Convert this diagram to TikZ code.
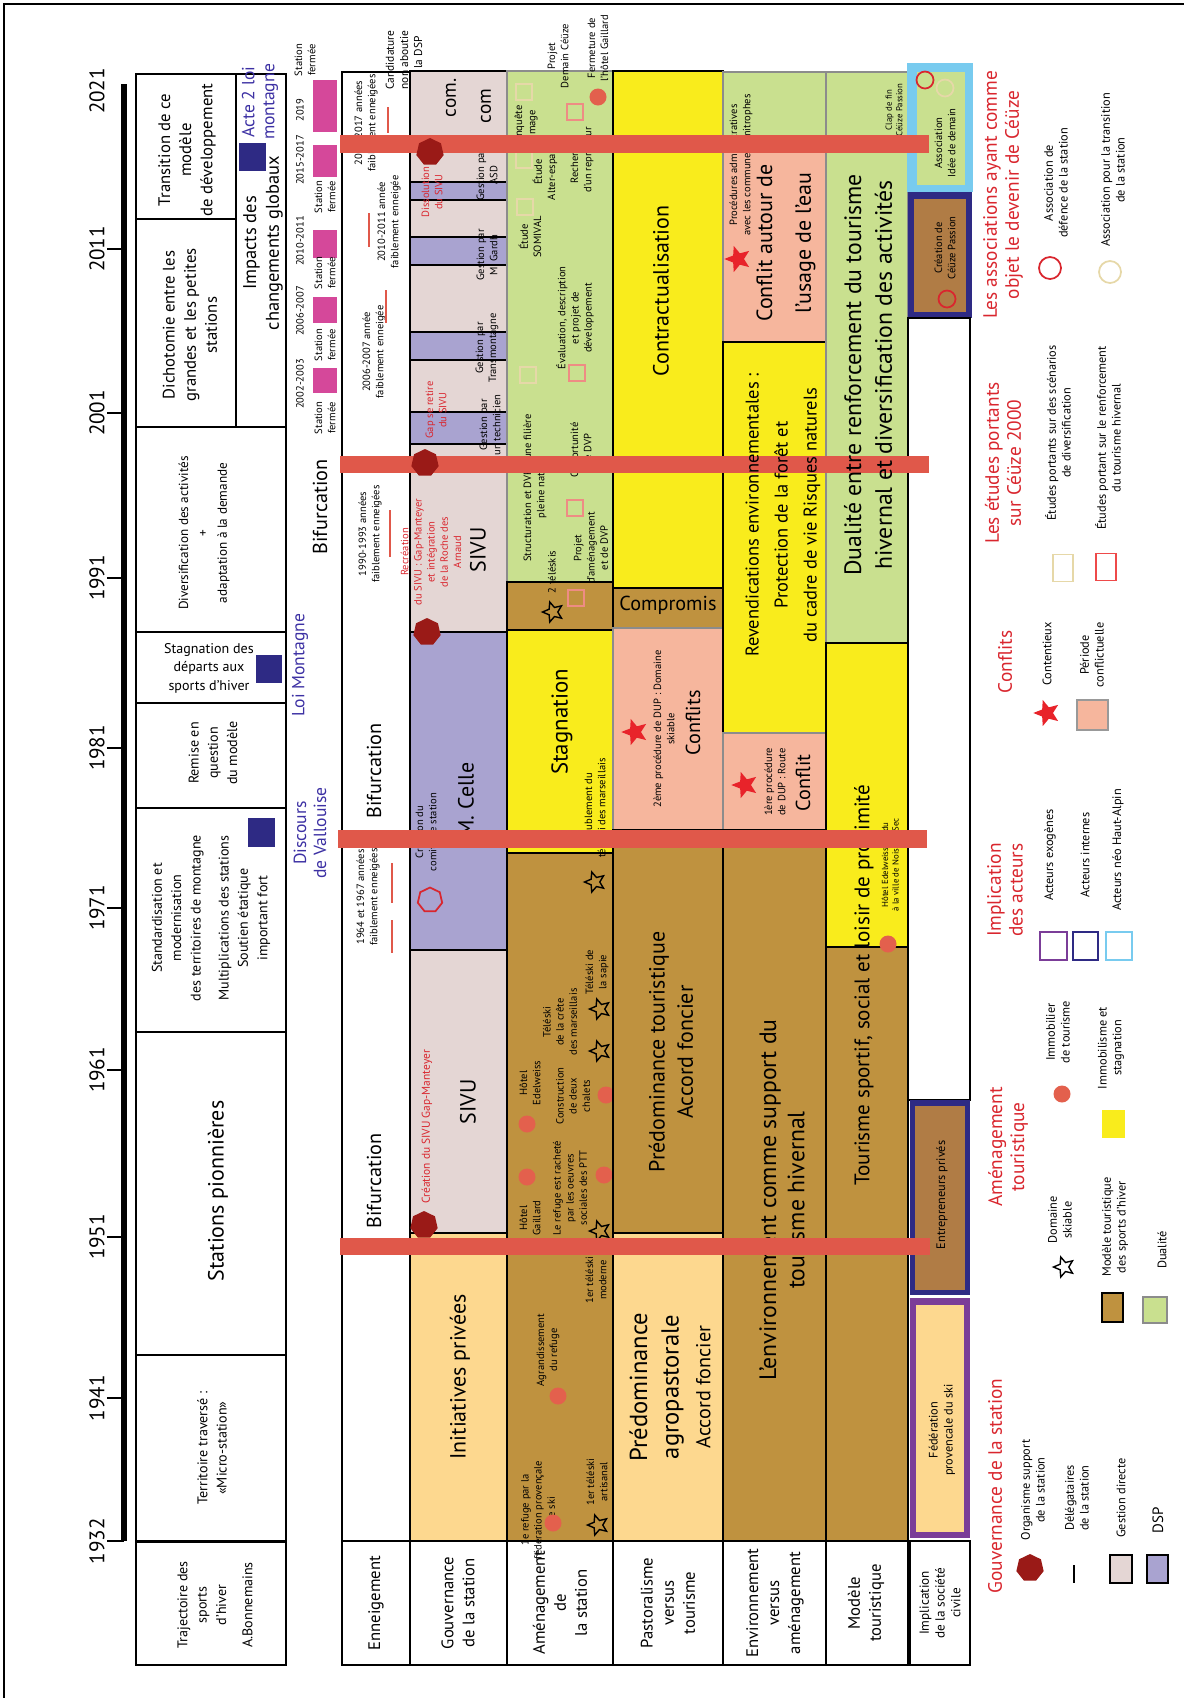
\documentclass[tikz,border=0pt]{standalone}
\usepackage{fontspec}
\setmainfont{PT Sans}
\usetikzlibrary{shapes.geometric}
\usetikzlibrary{positioning}

\definecolor{barred}{HTML}{E0584A}
\definecolor{darkred}{HTML}{9A1A17}
\definecolor{palepink}{HTML}{E4D6D4}
\definecolor{dsplav}{HTML}{A9A3D0}
\definecolor{lightorange}{HTML}{FDD88F}
\definecolor{brownmod}{HTML}{BF923F}
\definecolor{yellowst}{HTML}{F9EC1C}
\definecolor{greendual}{HTML}{C9E08F}
\definecolor{salmon}{HTML}{F6B69D}
\definecolor{titlered}{HTML}{D9262E}
\definecolor{loiblue}{HTML}{3C30A3}
\definecolor{navy}{HTML}{2E2A84}
\definecolor{pinksq}{HTML}{D5489A}
\definecolor{purplebd}{HTML}{7B3D98}
\definecolor{skyblue}{HTML}{78CBEF}
\definecolor{beige}{HTML}{E6D8A8}
\definecolor{brownimp}{HTML}{B07C45}
\definecolor{starred}{HTML}{E8232A}
\definecolor{dotred}{HTML}{E3604D}
\definecolor{studyred}{HTML}{EE4A4A}
\definecolor{studylight}{HTML}{EE8C84}

\begin{document}
\begin{tikzpicture}[x=0.02cm,y=-0.02cm,
  rt/.style={rotate=90,align=center,inner sep=0pt},
  bigtxt/.style={rt,font=\fontsize{12.5}{16}\selectfont},
  midtxt/.style={rt,font=\fontsize{9.5}{12}\selectfont},
  boxtxt/.style={rt,font=\fontsize{8}{11}\selectfont},
  labtxt/.style={rt,font=\fontsize{9.5}{12}\selectfont},
  legtxt/.style={rt,font=\fontsize{7}{8.4}\selectfont},
  smalltxt/.style={rt,font=\fontsize{6}{7.5}\selectfont},
  tinytxt/.style={rt,font=\fontsize{5}{6}\selectfont},
  yeartxt/.style={rt,font=\fontsize{12}{14}\selectfont},
  titletxt/.style={rt,font=\fontsize{11}{12.5}\selectfont,text=titlered},
  bluetxt/.style={rt,font=\fontsize{10}{11.5}\selectfont,text=loiblue},
  band/.style={draw=black,line width=1.1pt},
  softband/.style={draw=black!45,line width=0.8pt},
  tick/.style={line width=1.2pt},
  skistar/.style={star,star points=5,star point ratio=2.2,shape border rotate=90,draw,line width=0.8pt,minimum size=0.42cm,inner sep=0pt},
  constar/.style={star,star points=5,star point ratio=2.3,shape border rotate=90,fill=starred,minimum size=0.55cm,inner sep=0pt},
  immo/.style={circle,fill=dotred,minimum size=0.34cm,inner sep=0pt},
  orgsup/.style={regular polygon,regular polygon sides=7,fill=darkred,minimum size=0.56cm,inner sep=0pt},
  studysq/.style={rectangle,draw,line width=0.9pt,minimum size=0.32cm,inner sep=0pt},
  assoc/.style={circle,draw,line width=1pt,minimum size=0.34cm,inner sep=0pt}]

\useasboundingbox (0,0) rectangle (1184,1698);
\draw[line width=0.6pt] (4,1698) -- (4,4) -- (1184,4);

% time axis
\draw[line width=3pt] (124,84) -- (124,1541);
\draw[tick] (107,249) -- (124,249);
\draw[tick] (107,413) -- (124,413);
\draw[tick] (107,578) -- (124,578);
\draw[tick] (107,748) -- (124,748);
\draw[tick] (107,908) -- (124,908);
\draw[tick] (107,1070) -- (124,1070);
\draw[tick] (107,1237) -- (124,1237);
\draw[tick] (107,1398) -- (124,1398);
\draw[tick] (107,1541) -- (124,1541);
\node[yeartxt] (y2021) at (97,91) {2021};
\node[yeartxt] (y2011) at (97,249) {2011};
\node[yeartxt] (y2001) at (97,413) {2001};
\node[yeartxt] (y1991) at (97,578) {1991};
\node[yeartxt] (y1981) at (97,748) {1981};
\node[yeartxt] (y1971) at (97,908) {1971};
\node[yeartxt] (y1961) at (97,1070) {1961};
\node[yeartxt] (y1951) at (97,1237) {1951};
\node[yeartxt] (y1941) at (97,1398) {1941};
\node[yeartxt] (y1932) at (97,1541) {1932};

% trajectoire des sports d'hiver
\draw[band] (136,74) rectangle (286,427);
\draw[band] (236,74) -- (236,427);
\draw[band] (136,219) -- (236,219);
\draw[band] (136,427) rectangle (286,632);
\draw[band] (136,632) rectangle (286,703);
\draw[band] (136,703) rectangle (286,808);
\draw[band] (136,808) rectangle (286,1032);
\draw[band] (136,1032) rectangle (286,1355);
\draw[band] (136,1355) rectangle (286,1541);
\draw[band] (136,1542) rectangle (286,1665);
\fill[navy] (239,143) rectangle (266,171);
\fill[navy] (256,655) rectangle (282,683);
\fill[navy] (248,818) rectangle (275,847);
\node[midtxt] (trans) at (187,150) {Transition de ce\\modèle\\de développement};
\node[midtxt] (dicho) at (190,325) {Dichotomie entre les\\grandes et les petites\\stations};
\node[rt,font=\fontsize{10.5}{13}\selectfont] (impacts) at (263,243) {Impacts des\\changements globaux};
\node[bluetxt] (acte) at (260,102) {Acte 2 loi\\montagne};
\node[rt,font=\fontsize{7.5}{11}\selectfont] (divers) at (204,533) {Diversification des activités\\+\\adaptation à la demande};
\node[align=center,inner sep=0pt,font=\fontsize{8}{10.5}\selectfont] (stagdep) at (209,668) {Stagnation des\\départs aux\\sports d'hiver};
\node[boxtxt] (remise) at (213,753) {Remise en\\question\\du modèle};
\node[boxtxt] (standard) at (211,918) {Standardisation et\\modernisation\\des territoires de montagne\\[5pt]Multiplications des stations\\Soutien étatique\\important fort};
\node[bigtxt] (pionn) at (218,1191) {Stations pionnières};
\node[boxtxt] (microst) at (212,1448) {Territoire traversé :\\«Micro-station»};
\node[boxtxt] (trajlab) at (215,1605) {Trajectoire des\\sports\\d'hiver\\[4pt]A.Bonnemains};

% lois et stations fermees
\node[bluetxt] (loimont) at (300,665) {Loi Montagne};
\node[bluetxt] (vallouise) at (310,833) {Discours\\de Vallouise};
\node[rt,font=\fontsize{11.5}{13}\selectfont] (bif1) at (320,507) {Bifurcation};
\fill[pinksq] (313,80) rectangle (337,132);
\fill[pinksq] (313,145) rectangle (337,177);
\fill[pinksq] (313,230) rectangle (337,258);
\fill[pinksq] (313,297) rectangle (337,323);
\fill[pinksq] (313,368) rectangle (337,393);
\node[smalltxt] (f2019) at (300,110) {2019};
\node[smalltxt] (sf2019) at (305,60) {Station\\fermée};
\node[smalltxt] (f2015) at (300,160) {2015-2017};
\node[smalltxt] (sf2015) at (325,197) {Station\\fermée};
\node[smalltxt] (f2010) at (300,241) {2010-2011};
\node[smalltxt] (sf2010) at (325,273) {Station\\fermée};
\node[smalltxt] (f2006) at (300,311) {2006-2007};
\node[smalltxt] (sf2006) at (325,345) {Station\\fermée};
\node[smalltxt] (f2002) at (300,384) {2002-2003};
\node[smalltxt] (sf2002) at (325,418) {Station\\fermée};

% enneigement
\draw[band] (342,72) rectangle (410,1541);
\draw[band] (342,1541) rectangle (410,1665);
\node[labtxt] (lab1) at (376,1603) {Enneigement};
\node[smalltxt] (nei2015) at (366,123) {2015-2017 années\\faiblement enneigées};
\node[smalltxt,font=\fontsize{6.5}{8}\selectfont] (dsp) at (404,60) {Candidature\\non aboutie\\de la DSP};
\node[smalltxt] (nei2010) at (389,222) {2010-2011 année\\faiblement enneigée};
\node[smalltxt] (nei2006) at (374,352) {2006-2007 année\\faiblement enneigée};
\node[smalltxt] (nei1990) at (370,534) {1990-1993 années\\faiblement enneigées};
\node[smalltxt] (nei1964) at (368,897) {1964 et 1967 années\\faiblement enneigées};
\draw[barred,line width=1.2pt] (388,107) -- (388,133);
\draw[barred,line width=1.2pt] (369,213) -- (369,247);
\draw[barred,line width=1.2pt] (386,290) -- (386,323);
\draw[barred,line width=1.2pt] (390,510) -- (390,557);
\draw[barred,line width=1.2pt] (392,863) -- (392,903);
\draw[barred,line width=1.2pt] (392,920) -- (392,953);
\node[rt,font=\fontsize{11.5}{13}\selectfont] (bif2) at (374,771) {Bifurcation};
\node[rt,font=\fontsize{11.5}{13}\selectfont] (bif3) at (374,1181) {Bifurcation};

% gouvernance de la station
\filldraw[band,fill=palepink] (410,71) rectangle (507,632);
\filldraw[band,fill=dsplav] (410,182) rectangle (507,200);
\filldraw[band,fill=dsplav] (410,237) rectangle (507,265);
\filldraw[band,fill=dsplav] (410,332) rectangle (507,360);
\filldraw[band,fill=dsplav] (410,412) rectangle (507,444);
\filldraw[band,fill=dsplav] (410,632) rectangle (507,950);
\filldraw[band,fill=palepink] (410,950) rectangle (507,1233);
\filldraw[band,fill=lightorange] (410,1233) rectangle (507,1541);
\draw[band] (410,1541) rectangle (507,1665);
\node[labtxt] (lab2) at (458,1603) {Gouvernance\\de la station};
\node[rt,font=\fontsize{11}{13}\selectfont] (comA) at (451,98) {com.};
\node[rt,font=\fontsize{11}{13}\selectfont] (comB) at (486,106) {com};
\node[smalltxt,text=titlered] (dissol) at (432,192) {Dissolution\\du SIVU};
\node[smalltxt] (gasd) at (487,175) {Gestion par\\ASD};
\node[smalltxt] (ggardh) at (487,255) {Gestion par\\M. Gardh};
\node[smalltxt] (gtrans) at (487,348) {Gestion par\\Transmontagne};
\node[smalltxt,text=titlered] (retire) at (436,410) {Gap se retire\\du SIVU};
\node[smalltxt] (gtech) at (490,425) {Gestion par\\un technicien};
\node[smalltxt,text=titlered] (recrea) at (431,552) {Recréation\\du SIVU : Gap-Manteyer\\et intégration\\de la Roche des\\Arnaud};
\node[bigtxt] (sivuA) at (478,550) {SIVU};
\node[bigtxt] (celle) at (466,800) {M. Celle};
\node[smalltxt] (comite) at (426,832) {Création du\\comité de station};
\node[orgsup,fill=none,draw=titlered,line width=1pt,minimum size=0.5cm] (comhex) at (430,900) {};
\node[bigtxt] (sivuB) at (468,1102) {SIVU};
\node[smalltxt,font=\fontsize{6.5}{8}\selectfont,text=titlered] (crea) at (427,1127) {Création du SIVU Gap-Manteyer};
\node[bigtxt] (initpriv) at (460,1377) {Initiatives privées};

% amenagement de la station
\filldraw[softband,fill=greendual] (507,71) rectangle (613,582);
\filldraw[band,fill=brownmod] (507,582) rectangle (613,630);
\filldraw[band,fill=yellowst] (507,630) rectangle (613,853);
\filldraw[band,fill=brownmod] (507,853) rectangle (613,1541);
\draw[band] (507,1541) rectangle (613,1665);
\node[labtxt] (lab3) at (560,1603) {Aménagement\\de\\la station};
\node[studysq,draw=beige] (sqA) at (524,92) {};
\node[smalltxt] (enq) at (526,124) {Enquête\\image};
\node[studysq,draw=beige] (sqB) at (524,160) {};
\node[smalltxt] (alter) at (545,172) {Étude\\Alter-espace};
\node[studysq,draw=beige] (sqC) at (525,207) {};
\node[smalltxt] (somival) at (530,237) {Étude\\SOMIVAL};
\node[studysq,draw=studylight] (sqD) at (575,112) {};
\node[smalltxt] (demain) at (558,56) {Projet\\Demain Céüze};
\node[smalltxt] (repren) at (582,160) {Recherche\\d'un repreneur};
\node[immo] (dotG) at (598,97) {};
\node[smalltxt] (fermG) at (598,48) {Fermeture de\\l'hôtel Gaillard};
\node[studysq,draw=beige] (sqE) at (528,375) {};
\node[smalltxt] (evalu) at (575,318) {Évaluation, description\\et projet de\\développement};
\node[studysq,draw=studylight] (sqF) at (577,373) {};
\node[smalltxt] (struct) at (535,488) {Structuration et DVP d'une filière\\pleine nature};
\node[studysq,draw=studylight] (sqG) at (575,508) {};
\node[smalltxt] (opport) at (581,450) {Opportunité\\de DVP};
\node[smalltxt] (projdvp) at (591,548) {Projet\\d'aménagement\\et de DVP};
\node[smalltxt] (deuxtk) at (552,572) {2 téléskis};
\node[skistar] (stA) at (553,612) {};
\node[studysq,draw=studylight] (sqH) at (576,598) {};
\node[bigtxt,font=\fontsize{13}{16}\selectfont] (stagn) at (562,722) {Stagnation};
\node[smalltxt] (doubl) at (595,808) {Doublement du\\téléski des marseillais};
\node[skistar] (stB) at (595,882) {};
\node[smalltxt] (sapie) at (597,972) {Téléski de\\la sapie};
\node[skistar] (stC) at (600,1009) {};
\node[skistar] (stD) at (600,1051) {};
\node[smalltxt] (crete) at (560,1022) {Téléski\\de la crête\\des marseillais};
\node[smalltxt] (edel) at (530,1083) {Hôtel\\Edelweiss};
\node[immo] (dotE) at (527,1124) {};
\node[smalltxt] (chalets) at (573,1096) {Construction\\de deux\\chalets};
\node[immo] (dotC) at (606,1095) {};
\node[immo] (dotH) at (527,1177) {};
\node[smalltxt] (ptt) at (570,1188) {Le refuge est racheté\\par les oeuvres\\sociales des PTT};
\node[immo] (dotP) at (604,1175) {};
\node[smalltxt] (gaill) at (530,1218) {Hôtel\\Gaillard};
\node[skistar] (stE) at (600,1231) {};
\node[smalltxt] (moderne) at (596,1280) {1er téléski\\moderne};
\node[immo] (dotA) at (558,1396) {};
\node[smalltxt] (agrand) at (548,1350) {Agrandissement\\du refuge};
\node[smalltxt] (refuge) at (538,1510) {1e refuge par la\\fédération provençale\\de ski};
\node[immo] (dotR) at (553,1523) {};
\node[smalltxt] (artis) at (597,1482) {1er téléski\\artisanal};
\node[skistar] (stF) at (598,1525) {};

% pastoralisme versus tourisme
\filldraw[band,fill=yellowst] (613,71) rectangle (723,588);
\filldraw[band,fill=brownmod] (613,588) rectangle (723,628);
\filldraw[softband,fill=salmon] (613,628) rectangle (723,830);
\filldraw[band,fill=brownmod] (613,830) rectangle (723,1233);
\filldraw[band,fill=lightorange] (613,1233) rectangle (723,1541);
\draw[band] (613,1541) rectangle (723,1665);
\node[labtxt] (lab4) at (668,1603) {Pastoralisme\\versus\\tourisme};
\node[bigtxt] (contrac) at (661,291) {Contractualisation};
\node[inner sep=0pt,font=\fontsize{11.5}{13}\selectfont] (compro) at (668,605) {Compromis};
\node[constar] (csA) at (635,732) {};
\node[smalltxt] (dup2) at (664,729) {2ème procédure de DUP : Domaine\\skiable};
\node[rt,font=\fontsize{11.5}{13}\selectfont] (conflits) at (693,723) {Conflits};
\node[bigtxt] (predtour) at (671,1052) {Prédominance touristique\\Accord foncier};
\node[rt,font=\fontsize{14}{18}\selectfont] (predagro) at (670,1387) {Prédominance\\agropastorale\\{\fontsize{11.5}{13}\selectfont Accord foncier}};

% environnement versus amenagement
\filldraw[softband,fill=greendual] (723,72) rectangle (826,140);
\filldraw[softband,fill=salmon] (723,140) rectangle (826,342);
\filldraw[band,fill=yellowst] (723,342) rectangle (826,733);
\filldraw[softband,fill=salmon] (723,733) rectangle (826,830);
\filldraw[band,fill=brownmod] (723,830) rectangle (826,1541);
\draw[band] (723,1541) rectangle (826,1665);
\node[labtxt] (lab5) at (775,1603) {Environnement\\versus\\aménagement};
\node[smalltxt] (proced) at (741,165) {Procédures administratives\\avec les communes limitrophes};
\node[constar] (csB) at (738,259) {};
\node[rt,font=\fontsize{12.5}{22}\selectfont] (eau) at (786,243) {Conflit autour de\\l'usage de l'eau};
\node[constar] (csC) at (745,785) {};
\node[smalltxt] (dup1) at (775,782) {1ère procédure\\de DUP : Route};
\node[rt,font=\fontsize{11.5}{13}\selectfont] (conflit) at (803,783) {Conflit};
\node[rt,font=\fontsize{13.5}{16}\selectfont] (envsup) at (782,1200) {L'environnement comme support du\\tourisme hivernal};

% modele touristique
\filldraw[softband,fill=greendual] (826,72) rectangle (908,643);
\filldraw[band,fill=yellowst] (826,643) rectangle (908,947);
\filldraw[band,fill=brownmod] (826,947) rectangle (908,1541);
\draw[band] (826,1541) rectangle (908,1665);
\node[labtxt] (lab6) at (866,1603) {Modèle\\touristique};
\node[tinytxt] (clap) at (894,110) {Clap de fin\\Céüze Passion};
\node[rt,font=\fontsize{12}{14}\selectfont] (sportif) at (864,985) {Tourisme sportif, social et loisir de proximité};
\node[tinytxt] (noisy) at (891,865) {Hôtel Edelweiss vendu\\à la ville de Noisy-le-Sec};
\node[immo] (dotN) at (888,944) {};

% implication de la societe civile
\fill[skyblue] (907,63) rectangle (973,192);
\fill[greendual] (917,72) rectangle (965,185);
\fill[navy] (908,192) rectangle (972,318);
\fill[brownimp] (914,199) rectangle (966,312);
\draw[band] (908,318) rectangle (970,1100);
\fill[navy] (910,1100) rectangle (970,1295);
\fill[brownimp] (915,1106) rectangle (965,1290);
\fill[purplebd] (910,1298) rectangle (970,1538);
\fill[lightorange] (916,1305) rectangle (964,1532);
\draw[band] (910,1541) rectangle (970,1665);
\node[rt,font=\fontsize{7.5}{9}\selectfont] (lab7) at (940,1603) {Implication\\de la société\\civile};
\node[assoc,draw=titlered] (acA) at (925,80) {};
\node[assoc,draw=beige] (acB) at (945,88) {};
\node[smalltxt] (idee) at (945,143) {Association\\Idée de demain};
\node[smalltxt] (ceuzep) at (945,248) {Création de\\Céüze Passion};
\node[assoc,draw=titlered] (acC) at (947,299) {};
\node[rt,font=\fontsize{7}{8.5}\selectfont] (entrep) at (942,1195) {Entrepreneurs privés};
\node[rt,font=\fontsize{7}{8.5}\selectfont] (feder) at (942,1430) {Fédération\\provencale du ski};

% bifurcations
\fill[barred] (340,135) rectangle (929,153);
\fill[barred] (340,456) rectangle (929,473);
\fill[barred] (338,830) rectangle (927,848);
\fill[barred] (340,1238) rectangle (930,1255);
\node[orgsup] (orgA) at (430,152) {};
\node[orgsup] (orgB) at (425,463) {};
\node[orgsup] (orgC) at (427,632) {};
\node[orgsup] (orgD) at (424,1225) {};

% textes au-dessus des bifurcations
\node[rt,font=\fontsize{10.5}{16.5}\selectfont] (revend) at (783,515) {Revendications environnementales :\\Protection de la forêt et\\du cadre de vie Risques naturels};
\node[rt,font=\fontsize{13.5}{17.5}\selectfont] (dual) at (868,375) {Dualité entre renforcement du tourisme\\hivernal et diversification des activités};

% legende : gouvernance
\node[titletxt] (govleg) at (995,1486) {Gouvernance de la station};
\node[orgsup] (legorg) at (1030,1568) {};
\node[legtxt] (legorgtxt) at (1033,1490) {Organisme support\\de la station};
\draw[line width=1.2pt] (1074,1565) -- (1074,1583);
\node[legtxt] (legdel) at (1077,1498) {Délégataires\\de la station};
\filldraw[band,fill=palepink] (1110,1555) rectangle (1132,1583);
\node[legtxt] (leggest) at (1121,1498) {Gestion directe};
\filldraw[band,fill=dsplav] (1147,1555) rectangle (1168,1583);
\node[rt,font=\fontsize{8.5}{10}\selectfont] (legdsp) at (1158,1520) {DSP};

% legende : amenagement touristique
\node[titletxt] (amenleg) at (1008,1147) {Aménagement\\touristique};
\node[skistar] (legski) at (1064,1267) {};
\node[legtxt] (legskitxt) at (1060,1220) {Domaine\\skiable};
\filldraw[band,fill=brownmod] (1102,1293) rectangle (1123,1322);
\node[legtxt] (legmod) at (1115,1227) {Modèle touristique\\des sports d'hiver};
\filldraw[softband,fill=greendual] (1143,1297) rectangle (1167,1323);
\node[legtxt] (legdual) at (1162,1250) {Dualité};
\node[immo] (legimmo) at (1062,1094) {};
\node[legtxt] (legimmotxt) at (1058,1032) {Immobilier\\de tourisme};
\fill[yellowst] (1102,1110) rectangle (1125,1138);
\node[legtxt] (legstag) at (1111,1048) {Immobilisme et\\stagnation};

% legende : implication des acteurs
\node[titletxt] (implleg) at (1005,890) {Implication\\des acteurs};
\draw[purplebd,line width=1.5pt] (1040,932) rectangle (1067,960);
\node[legtxt] (legexo) at (1050,855) {Acteurs exogènes};
\draw[navy,line width=1.5pt] (1073,932) rectangle (1098,960);
\node[legtxt] (legint) at (1085,855) {Acteurs internes};
\draw[skyblue,line width=1.5pt] (1106,932) rectangle (1132,960);
\node[legtxt] (legneo) at (1118,850) {Acteurs néo Haut-Alpin};

% legende : conflits
\node[titletxt] (confleg) at (1005,662) {Conflits};
\node[constar] (legcont) at (1047,713) {};
\node[legtxt] (legconttxt) at (1047,654) {Contentieux};
\filldraw[draw=black!40,line width=1.5pt,fill=salmon] (1077,700) rectangle (1108,730);
\node[legtxt] (legper) at (1092,655) {Période\\conflictuelle};

% legende : etudes
\node[titletxt] (etleg) at (1003,463) {Les études portants\\sur Céüze 2000};
\node[studysq,draw=beige,minimum width=0.4cm,minimum height=0.54cm] (legbeige) at (1063,568) {};
\node[legtxt] (legdiv) at (1058,433) {Études portants sur des scénarios\\de diversification};
\node[studysq,draw=studyred,minimum width=0.4cm,minimum height=0.54cm] (legred) at (1106,567) {};
\node[legtxt] (legrenf) at (1108,438) {Études portant sur le renforcement\\du tourisme hivernal};

% legende : associations
\node[titletxt] (assleg) at (1003,195) {Les associations ayant comme\\objet le devenir de Céüze};
\node[assoc,draw=titlered,minimum size=0.44cm] (legdef) at (1050,268) {};
\node[legtxt] (legdeftxt) at (1056,183) {Association de\\défence de la station};
\node[assoc,draw=beige,minimum size=0.44cm] (legtra) at (1110,272) {};
\node[legtxt] (legtratxt) at (1113,170) {Association pour la transition\\de la station};
\end{tikzpicture}
\end{document}
